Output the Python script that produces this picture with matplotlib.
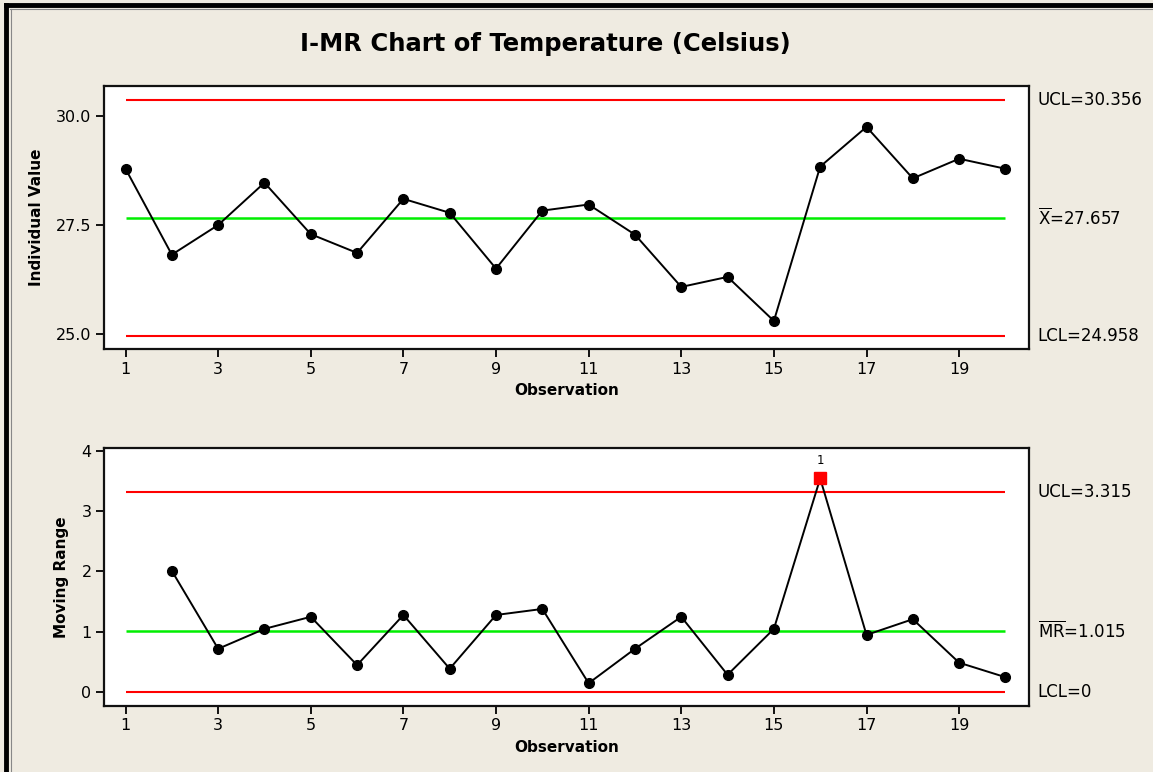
import numpy as np
import matplotlib
matplotlib.use("Agg")
import matplotlib.pyplot as plt
from matplotlib.lines import Line2D

# values
observations = list(range(1, 21))
temperature = [28.79, 26.82, 27.50, 28.47, 27.29, 26.86, 28.10, 27.78, 26.50, 27.83,
               27.97, 27.28, 26.08, 26.31, 25.30, 28.84, 29.75, 28.57, 29.02, 28.79]
mr_obs = list(range(2, 21))
moving_range = [2.01, 0.72, 1.05, 1.25, 0.45, 1.28, 0.39, 1.28, 1.38,
                0.15, 0.72, 1.25, 0.29, 1.05, 3.54, 0.95, 1.21, 0.49, 0.25]

i_ucl, i_mean, i_lcl = 30.356, 27.657, 24.958
mr_ucl, mr_mean, mr_lcl = 3.315, 1.015, 0.0

bg = "#efebe1"
plt.rcParams["font.family"] = "DejaVu Sans"

fig = plt.figure(figsize=(11.53, 7.72), dpi=100, facecolor=bg)

ax1 = fig.add_axes([0.0902, 0.5479, 0.8023, 0.3407])
ax2 = fig.add_axes([0.0902, 0.0855, 0.8023, 0.3342])


def style_axis(ax):
    ax.set_facecolor("white")
    for s in ax.spines.values():
        s.set_linewidth(1.6)
        s.set_color("#111111")
    ax.tick_params(axis="both", direction="out", length=6, width=1.3,
                   labelsize=11.5, top=False, right=False, pad=3)
    ax.set_xlim(0.535, 20.51)
    ax.set_xticks(range(1, 21, 2))
    ax.set_xlabel("Observation", fontsize=11, fontweight="bold", labelpad=5)


def control_lines(ax, ucl, center, lcl):
    ax.hlines([ucl, lcl], 1, 20, colors="#ff0000", linewidth=1.5, zorder=1)
    ax.hlines(center, 1, 20, colors="#00ee00", linewidth=1.8, zorder=1)


# I chart
style_axis(ax1)
control_lines(ax1, i_ucl, i_mean, i_lcl)
ax1.plot(observations, temperature, color="black", linewidth=1.4,
         marker="o", markersize=7, zorder=3)
ax1.set_ylim(24.656, 30.688)
ax1.set_yticks([25.0, 27.5, 30.0])
ax1.set_yticklabels(["25.0", "27.5", "30.0"])
ax1.set_ylabel("Individual Value", fontsize=11, fontweight="bold", labelpad=9)

# MR chart
style_axis(ax2)
control_lines(ax2, mr_ucl, mr_mean, mr_lcl)
ax2.plot(mr_obs, moving_range, color="black", linewidth=1.4, zorder=2)
mr = np.array(moving_range)
obs = np.array(mr_obs)
ok = mr <= mr_ucl
ax2.plot(obs[ok], mr[ok], "o", color="black", markersize=7, zorder=3)
ax2.plot(obs[~ok], mr[~ok], "s", color="#ff0000", markersize=8, zorder=4)
for x, y in zip(obs[~ok], mr[~ok]):
    ax2.annotate("1", (x, y), xytext=(0, 8), textcoords="offset points",
                 ha="center", va="bottom", fontsize=8.5)
ax2.set_ylim(-0.227, 4.045)
ax2.set_yticks([0, 1, 2, 3, 4])
ax2.set_ylabel("Moving Range", fontsize=11, fontweight="bold", labelpad=9)

# limit labels on the right
lab = dict(fontsize=12, va="center", ha="left", clip_on=False)
tx = 1.0095
ax1.text(tx, i_ucl, "UCL=30.356", transform=ax1.get_yaxis_transform(), **lab)
ax1.text(tx, i_mean, r"$\overline{\mathrm{X}}$=27.657", transform=ax1.get_yaxis_transform(), **lab)
ax1.text(tx, i_lcl, "LCL=24.958", transform=ax1.get_yaxis_transform(), **lab)
ax2.text(tx, mr_ucl, "UCL=3.315", transform=ax2.get_yaxis_transform(), **lab)
ax2.text(tx, mr_mean, r"$\overline{\mathrm{MR}}$=1.015", transform=ax2.get_yaxis_transform(), **lab)
ax2.text(tx, mr_lcl, "LCL=0", transform=ax2.get_yaxis_transform(), **lab)

fig.text(0.4727, 0.943, "I-MR Chart of Temperature (Celsius)", ha="center", va="center",
         fontsize=17.5, fontweight="bold")

# window frame along top and left edges
fig.add_artist(Line2D([0.005, 1.0], [0.9935, 0.9935], transform=fig.transFigure,
                      color="black", linewidth=3.5))
fig.add_artist(Line2D([0.0055, 0.0055], [0.0, 0.9935], transform=fig.transFigure,
                      color="black", linewidth=3.5))
fig.add_artist(Line2D([0.009, 1.0], [0.9885, 0.9885], transform=fig.transFigure,
                      color="#888888", linewidth=0.8))
fig.add_artist(Line2D([0.0092, 0.0092], [0.0, 0.9885], transform=fig.transFigure,
                      color="#888888", linewidth=0.8))

fig.savefig("out.png", dpi=100, facecolor=bg)
